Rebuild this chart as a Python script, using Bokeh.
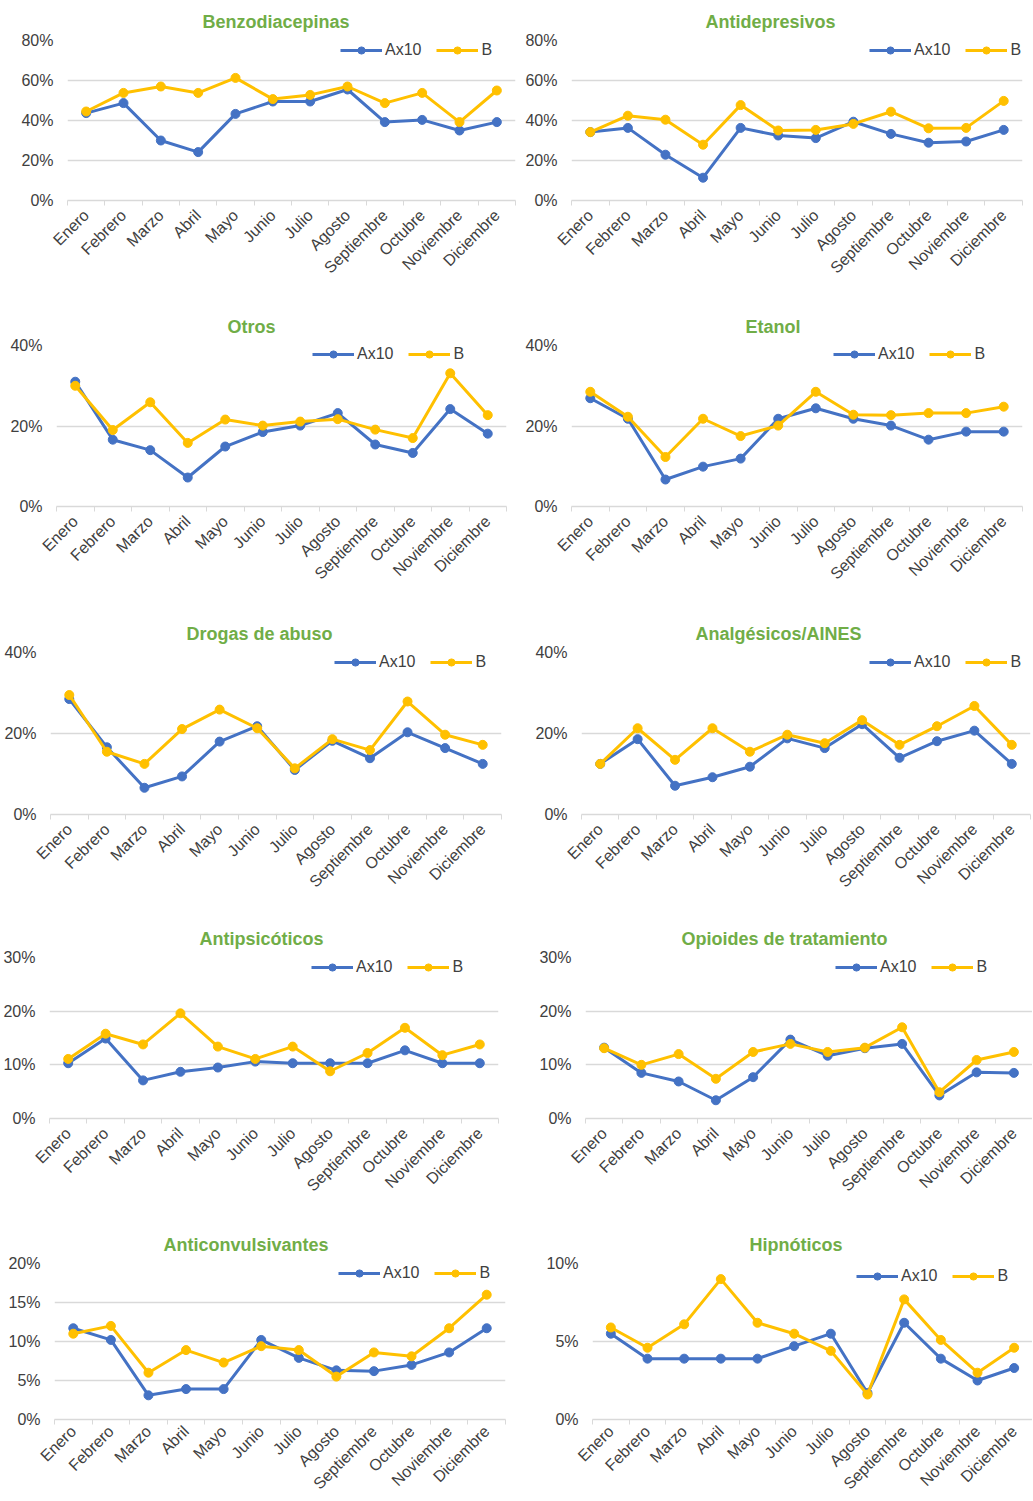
from math import pi
from bokeh.plotting import figure
from bokeh.layouts import column, row
from bokeh.models import Range1d, FixedTicker, PrintfTickFormatter, ColumnDataSource
from bokeh.embed import file_html
from bokeh.resources import INLINE

months = ["Enero", "Febrero", "Marzo", "Abril", "Mayo", "Junio", "Julio",
          "Agosto", "Septiembre", "Octubre", "Noviembre", "Diciembre"]

titles = ["Benzodiacepinas", "Antidepresivos", "Otros", "Etanol", "Drogas de abuso",
          "Analgésicos/AINES", "Antipsicóticos", "Opioides de tratamiento",
          "Anticonvulsivantes", "Hipnóticos"]

benzo_ax10 = [43.7, 48.7, 30.0, 24.2, 43.3, 49.5, 49.5, 55.5, 39.2, 40.3, 35.0, 39.2]
benzo_b = [44.5, 53.8, 57.0, 53.8, 61.3, 50.7, 52.8, 57.0, 48.7, 53.8, 39.2, 55.0]

antidep_ax10 = [34.2, 36.3, 22.9, 11.4, 36.3, 32.5, 31.2, 39.4, 33.3, 28.9, 29.5, 35.3]
antidep_b = [34.2, 42.4, 40.4, 27.9, 47.7, 35.0, 35.3, 38.3, 44.4, 36.1, 36.3, 49.8]

otros_ax10 = [31.0, 16.6, 14.0, 7.2, 14.9, 18.5, 20.1, 23.2, 15.4, 13.3, 24.2, 18.1]
otros_b = [30.0, 19.0, 25.9, 15.8, 21.6, 20.1, 21.1, 21.7, 19.1, 17.0, 33.1, 22.7]

etanol_ax10 = [26.9, 21.8, 6.7, 9.9, 11.9, 21.8, 24.4, 21.8, 20.1, 16.6, 18.6, 18.6]
etanol_b = [28.5, 22.3, 12.3, 21.8, 17.5, 20.1, 28.5, 22.8, 22.7, 23.2, 23.2, 24.8]

drogas_ax10 = [28.5, 16.6, 6.6, 9.4, 18.0, 21.8, 11.0, 18.2, 13.9, 20.3, 16.4, 12.5]
drogas_b = [29.5, 15.5, 12.5, 21.1, 25.9, 21.3, 11.4, 18.6, 15.9, 27.9, 19.7, 17.2]

analg_ax10 = [12.5, 18.6, 7.1, 9.2, 11.8, 18.8, 16.4, 22.3, 14.0, 18.1, 20.7, 12.5]
analg_b = [12.5, 21.3, 13.5, 21.3, 15.5, 19.7, 17.6, 23.3, 17.2, 21.8, 26.8, 17.2]

antipsic_ax10 = [10.3, 14.9, 7.1, 8.7, 9.5, 10.6, 10.3, 10.3, 10.3, 12.7, 10.3, 10.3]
antipsic_b = [11.1, 15.8, 13.8, 19.6, 13.4, 11.1, 13.4, 8.8, 12.2, 16.9, 11.8, 13.8]

opioides_ax10 = [13.2, 8.5, 6.9, 3.4, 7.7, 14.7, 11.7, 13.1, 13.9, 4.3, 8.6, 8.5]
opioides_b = [13.1, 10.0, 12.0, 7.4, 12.4, 13.9, 12.4, 13.2, 17.0, 4.9, 10.9, 12.4]

anticonv_ax10 = [11.7, 10.2, 3.1, 3.9, 3.9, 10.2, 7.9, 6.3, 6.2, 7.0, 8.6, 11.7]
anticonv_b = [11.0, 12.0, 6.0, 8.9, 7.3, 9.4, 8.9, 5.5, 8.6, 8.1, 11.7, 16.0]

hipnot_ax10 = [5.5, 3.9, 3.9, 3.9, 3.9, 4.7, 5.5, 1.7, 6.2, 3.9, 2.5, 3.3]
hipnot_b = [5.9, 4.6, 6.1, 9.0, 6.2, 5.5, 4.4, 1.6, 7.7, 5.1, 3.0, 4.6]

series_ax10 = [benzo_ax10, antidep_ax10, otros_ax10, etanol_ax10, drogas_ax10,
               analg_ax10, antipsic_ax10, opioides_ax10, anticonv_ax10, hipnot_ax10]
series_b = [benzo_b, antidep_b, otros_b, etanol_b, drogas_b,
            analg_b, antipsic_b, opioides_b, anticonv_b, hipnot_b]

y_max = [80, 80, 40, 40, 40, 40, 30, 30, 20, 10]
y_step = [20, 20, 20, 20, 20, 20, 10, 10, 5, 5]

# ---- layout (pixels) ----
FIG_W = 516
row_h = [306, 306, 306, 306, 277]
row_top = [40, 38, 40, 39, 39]
frame_h = [160, 162, 162, 161, 161]
x_standoff = [7, 7, 7, 7, 4]
left_b = [67, 55, 56, 55, 50, 65, 48, 69, 54, 76]
frame_w = [448, 451, 450, 451, 451, 449, 450, 447, 451, 440]
title_left = [202, 705, 227, 745, 186, 695, 198, 681, 163, 749]   # page coords
leg_dx = [273, 298, 256, 262, 284, 288, 262, 250, 284, 264]
leg_dy = [5, 9, 9, 7, 1, 3, 10, 6, 6, 13]

BLUE = "#4472C4"
GOLD = "#FFC000"
GREEN = "#70AD47"
GRID = "#D9D9D9"
TEXT = "#404040"
FONT = "Liberation Sans"
LEG_H = 18
X_LABEL_EXTENT = 78   # rotated month labels + ticks, without standoff

figs = []
for i in range(len(titles)):
    r, col = i // 2, i % 2
    L = left_b[i]
    fw = frame_w[i]
    R = max(FIG_W - L - fw, 0)
    top = row_top[r]
    fh = frame_h[r]
    bottom = row_h[r] - top - fh
    fh_eff = min(fh, row_h[r] - top - (X_LABEL_EXTENT + x_standoff[r]))
    page_left = col * FIG_W

    x = [k + 1 for k in range(len(months))]
    src = ColumnDataSource(data=dict(x=x, a=series_ax10[i], b=series_b[i]))

    p = figure(width=FIG_W, height=row_h[r],
               x_range=Range1d(0.5, len(months) + 0.5),
               y_range=Range1d(0, y_max[i]),
               output_backend="svg", toolbar_location=None,
               min_border_left=L, min_border_right=R,
               min_border_top=top, min_border_bottom=bottom)
    p.outline_line_color = None
    p.background_fill_color = "white"
    p.border_fill_color = "white"

    # title
    p.title.text = titles[i]
    p.title.align = "left"
    p.title.text_font = FONT
    p.title.text_font_size = "18px"
    p.title.text_font_style = "bold"
    p.title.text_color = GREEN
    p.title.standoff = 17
    p.title.offset = title_left[i] - (page_left + L)

    # lines
    p.line("x", "a", source=src, color=BLUE, line_width=3, legend_label="Ax10")
    p.scatter("x", "a", source=src, color=BLUE, size=9, legend_label="Ax10")
    p.line("x", "b", source=src, color=GOLD, line_width=3, legend_label="B")
    p.scatter("x", "b", source=src, color=GOLD, size=9, legend_label="B")

    # x axis
    xa = p.xaxis[0]
    xa.ticker = FixedTicker(ticks=x, minor_ticks=[k + 0.5 for k in range(len(months) + 1)])
    xa.major_label_overrides = {k + 1: m for k, m in enumerate(months)}
    xa.major_label_orientation = pi / 4
    xa.major_tick_line_color = None
    xa.major_tick_out = 0
    xa.major_tick_in = 0
    xa.minor_tick_line_color = GRID
    xa.minor_tick_out = 5
    xa.minor_tick_in = 0
    xa.axis_line_color = GRID
    xa.axis_line_width = 1.5
    xa.major_label_text_font = FONT
    xa.major_label_text_font_size = "16px"
    xa.major_label_text_color = TEXT
    xa.major_label_standoff = x_standoff[r]

    # y axis
    ticks = list(range(0, y_max[i] + 1, y_step[i]))
    ya = p.yaxis[0]
    ya.ticker = FixedTicker(ticks=ticks)
    ya.formatter = PrintfTickFormatter(format="%d%%")
    ya.axis_line_color = None
    ya.major_tick_line_color = None
    ya.minor_tick_line_color = None
    ya.major_label_text_font = FONT
    ya.major_label_text_font_size = "16px"
    ya.major_label_text_color = TEXT
    ya.major_label_standoff = 8

    p.xgrid.visible = False
    p.ygrid.ticker = FixedTicker(ticks=ticks)
    p.ygrid.grid_line_color = GRID
    p.ygrid.grid_line_width = 1.5

    # legend
    lg = p.legend[0]
    lg.orientation = "horizontal"
    lg.location = (leg_dx[i], fh_eff - LEG_H - max(1, leg_dy[i] - LEG_H // 2))
    lg.background_fill_alpha = 0
    lg.border_line_color = None
    lg.padding = 0
    lg.margin = 0
    lg.spacing = 15
    lg.glyph_width = 42
    lg.glyph_height = LEG_H
    lg.label_height = LEG_H
    lg.label_standoff = 3
    lg.label_text_font = FONT
    lg.label_text_font_size = "16px"
    lg.label_text_color = TEXT

    figs.append(p)

rows = [row(figs[k], figs[k + 1]) for k in range(0, len(figs), 2)]
layout = column(*rows)

open("out.html", "w").write(file_html(layout, INLINE))
